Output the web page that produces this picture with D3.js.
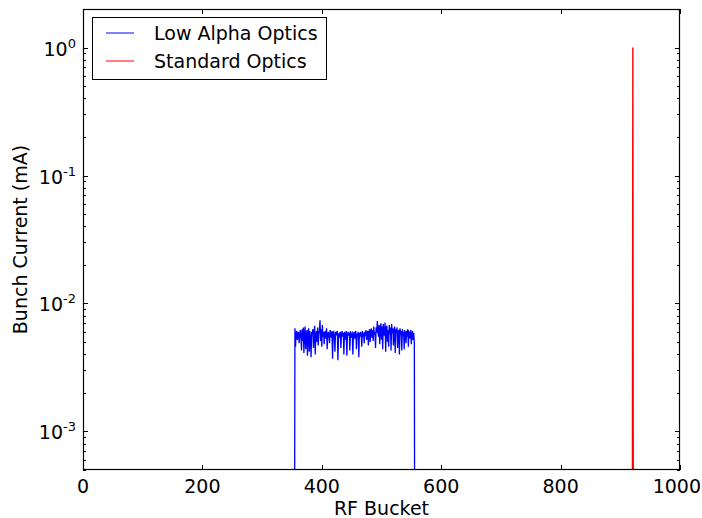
<!DOCTYPE html>
<html><head><meta charset="utf-8">
<script src="https://cdn.jsdelivr.net/npm/d3@7"></script>
<style>body{margin:0;background:#fff}svg{display:block}text{font-family:"DejaVu Sans",sans-serif;fill:#000}</style>
</head><body><svg id="c" width="702" height="518"></svg>
<script>
const nBuckets = 936;
const lowAlphaStart = 355;
const lowAlphaValues = [ // mA, buckets 355..555
6.4,4.6,5.9,6.1,5.2,5.8,6.0,4.9,5.6,6.2,
5.7,4.3,6.3,5.1,6.5,4.1,5.9,6.6,4.4,5.5,
6.2,3.9,5.8,6.4,4.2,6.1,5.3,3.8,6.0,5.7,
6.3,4.5,5.9,6.7,4.0,5.6,6.1,5.0,6.5,4.7,
5.8,6.2,7.4,5.1,6.3,4.6,6.8,5.5,6.0,4.8,
5.9,6.1,5.3,6.4,4.4,5.7,6.0,5.6,4.9,6.2,
5.8,5.4,6.1,3.7,5.9,6.0,5.5,4.2,6.0,5.7,
5.8,6.1,3.6,5.6,5.9,5.4,6.0,4.5,5.8,6.1,
5.5,5.9,4.0,6.0,5.7,5.2,6.1,3.9,5.8,6.0,
5.6,5.9,4.3,6.1,5.4,5.8,5.9,4.0,5.7,6.0,
5.3,5.9,6.1,4.4,5.8,5.6,6.0,3.8,5.9,5.5,
6.0,5.7,4.6,6.1,5.5,5.9,4.9,6.0,5.6,6.2,
5.2,5.8,6.1,4.7,5.9,6.3,5.0,6.0,6.4,5.4,
6.2,5.1,6.6,5.7,6.0,4.5,6.5,5.9,7.3,6.1,
5.5,6.8,4.8,6.3,7.0,5.2,6.6,4.4,6.9,6.0,
5.6,7.1,4.2,6.4,6.7,5.0,6.2,4.6,6.8,5.8,
6.5,4.3,6.9,5.9,6.4,4.7,6.1,6.6,4.1,6.3,
5.9,6.5,4.5,6.0,6.2,4.0,6.4,5.7,6.1,4.3,
6.3,5.6,6.0,4.4,6.2,5.8,4.9,6.1,5.5,6.3,
4.6,6.0,5.9,5.3,6.2,4.8,5.7,6.1,5.2,5.9,
4.9
].map(v => v * 1e-3);
const standardBucket = 921;
const standardValue = 1.0;
const xTicks = [0, 200, 400, 600, 800, 1000];
const yTickExps = [0, -1, -2, -3];
const seriesNames = ["Low Alpha Optics", "Standard Optics"];
const seriesColors = ["#0000ff", "#ff0000"];

const lowAlpha = d3.range(nBuckets).map(i => {
  const k = i - lowAlphaStart;
  return {x: i, y: (k >= 0 && k < lowAlphaValues.length) ? lowAlphaValues[k] : 0};
});
const standard = d3.range(nBuckets).map(i => ({x: i, y: i === standardBucket ? standardValue : 0}));

const W = 702, L = 83, R = 680, T = 9, B = 470;
const FS = 19;
const svg = d3.select("#c");
const x = d3.scaleLinear().domain([0, 1000]).range([L, R]);
const y = d3.scaleLog().domain([5e-4, 2]).range([B, T]);
const yv = v => v > 0 ? y(v) : B + 200;

svg.append("clipPath").attr("id", "clip").append("rect").attr("x", L).attr("y", T).attr("width", R - L).attr("height", B - T);
const line = d3.line().x(d => x(d.x)).y(d => yv(d.y));
const g = svg.append("g").attr("clip-path", "url(#clip)");
g.append("path").datum(lowAlpha).attr("d", line).attr("fill", "none").attr("stroke", seriesColors[0]).attr("stroke-width", 1.3);
g.append("path").datum(standard).attr("d", line).attr("fill", "none").attr("stroke", seriesColors[1]).attr("stroke-width", 1.4);

// axes
const ax = svg.append("g").attr("stroke", "#000").attr("stroke-width", 1);
xTicks.forEach(t => {
  const px = Math.round(x(t)) + 0.5;
  ax.append("line").attr("x1", px).attr("x2", px).attr("y1", B).attr("y2", B - 5);
  ax.append("line").attr("x1", px).attr("x2", px).attr("y1", T).attr("y2", T + 5);
  const lbl = svg.append("text").attr("x", x(t)).attr("y", B + 23).attr("text-anchor", "middle").attr("font-size", FS).text(t);
  const bb = lbl.node().getBBox();
  if (bb.x + bb.width > W - 1) lbl.attr("x", x(t) - (bb.x + bb.width - (W - 1)));
});
yTickExps.forEach(e => {
  const py = Math.round(y(Math.pow(10, e))) + 0.5;
  ax.append("line").attr("x1", L).attr("x2", L + 5).attr("y1", py).attr("y2", py);
  ax.append("line").attr("x1", R).attr("x2", R - 5).attr("y1", py).attr("y2", py);
  const tx = svg.append("text").attr("x", L - 7).attr("y", py + 7).attr("text-anchor", "end").attr("font-size", FS);
  tx.append("tspan").text("10");
  tx.append("tspan").attr("dy", -8).attr("font-size", 13).text(e);
});
for (let e = -4; e <= 0; e++) {
  for (let m = 2; m <= 9; m++) {
    const v = m * Math.pow(10, e);
    if (v < 5e-4 || v > 2) continue;
    const py = Math.round(y(v)) + 0.5;
    ax.append("line").attr("x1", L).attr("x2", L + 3).attr("y1", py).attr("y2", py);
    ax.append("line").attr("x1", R).attr("x2", R - 3).attr("y1", py).attr("y2", py);
  }
}
svg.append("rect").attr("x", L + 0.5).attr("y", T + 0.5).attr("width", R - L - 1).attr("height", B - T - 1)
  .attr("fill", "none").attr("stroke", "#000").attr("stroke-width", 1.2);

// labels
svg.append("text").attr("x", (L + R) / 2).attr("y", 515).attr("text-anchor", "middle").attr("font-size", FS).text("RF Bucket");
svg.append("text").attr("transform", `translate(27,${(T + B) / 2}) rotate(-90)`).attr("text-anchor", "middle").attr("font-size", FS).text("Bunch Current (mA)");

// legend
const lg = svg.append("g");
lg.append("rect").attr("x", 92.5).attr("y", 17.5).attr("width", 234).attr("height", 62).attr("fill", "#fff").attr("stroke", "#000").attr("stroke-width", 1);
seriesNames.forEach((n, i) => {
  const ly = 33 + i * 28;
  lg.append("line").attr("x1", 106).attr("x2", 134).attr("y1", ly).attr("y2", ly).attr("stroke", seriesColors[i]).attr("stroke-width", 1);
  lg.append("text").attr("x", 154).attr("y", ly + 7).attr("font-size", FS).text(n);
});
</script></body></html>
